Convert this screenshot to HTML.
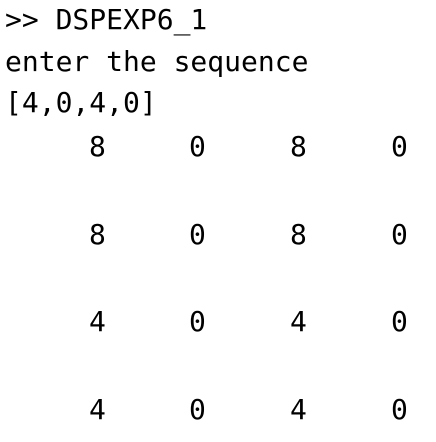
<!DOCTYPE html>
<html><head><style>
body{margin:0;width:436px;height:442px;background:#fff;overflow:hidden;position:relative;font-family:"DejaVu Sans Mono","Liberation Mono",monospace;font-size:28px;color:#000;}
div{position:absolute;line-height:28px;white-space:pre;}
</style></head><body>
<div style="left:5px;top:6px">&gt;&gt; DSPEXP6_1</div>
<div style="left:5px;top:48px">enter the sequence</div>
<div style="left:5px;top:89px">[4,0,4,0]</div>
<div style="left:89px;top:133px">8</div><div style="left:189px;top:133px">0</div><div style="left:290px;top:133px">8</div><div style="left:391px;top:133px">0</div>
<div style="left:89px;top:221px">8</div><div style="left:189px;top:221px">0</div><div style="left:290px;top:221px">8</div><div style="left:391px;top:221px">0</div>
<div style="left:89px;top:308px">4</div><div style="left:189px;top:308px">0</div><div style="left:290px;top:308px">4</div><div style="left:391px;top:308px">0</div>
<div style="left:89px;top:396px">4</div><div style="left:189px;top:396px">0</div><div style="left:290px;top:396px">4</div><div style="left:391px;top:396px">0</div>
</body></html>
